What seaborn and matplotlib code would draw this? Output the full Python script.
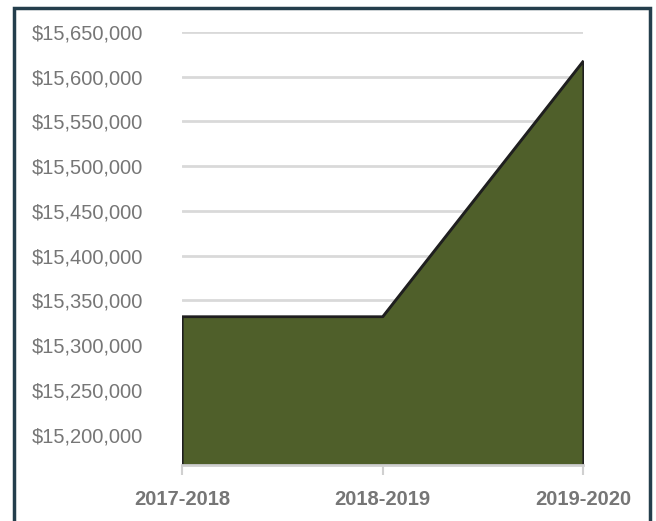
import matplotlib
matplotlib.use("Agg")
import matplotlib.pyplot as plt
import matplotlib.patches as mpatches
from matplotlib.ticker import FuncFormatter
import seaborn as sns
import pandas as pd

years = ["2017-2018", "2018-2019", "2019-2020"]
funding = [15332000, 15332000, 15617500]
y_ticks = [15200000, 15250000, 15300000, 15350000, 15400000,
           15450000, 15500000, 15550000, 15600000, 15650000]
y_floor = 15166000

sns.set_theme(style="white")
plt.rcParams["font.family"] = ["Liberation Sans", "DejaVu Sans"]

df = pd.DataFrame({"pos": range(len(years)), "year": years, "funding": funding})

fig = plt.figure(figsize=(6.56, 5.21), dpi=100)
ax = fig.add_axes([182 / 656, 1 - 465 / 521, (583 - 182) / 656, (465 - 32) / 521])

fill_color = "#4f5f2a"
ax.fill_between(df["pos"], y_floor, df["funding"], color=fill_color,
                edgecolor="#1f1f1f", linewidth=1.6, zorder=2)
sns.lineplot(data=df, x="pos", y="funding", ax=ax, color="#1f1f1f",
             linewidth=1.6, zorder=3)

ax.set_xlim(0, len(years) - 1)
ax.set_ylim(y_floor, 15650000)
ax.set_yticks(y_ticks)
ax.yaxis.set_major_formatter(FuncFormatter(lambda v, _: f"${v:,.0f}"))
ax.set_xticks(df["pos"])
ax.set_xticklabels(years)
ax.set_xlabel("")
ax.set_ylabel("")

ax.grid(axis="y", color="#d9d9d9", linewidth=2, zorder=0)
ax.set_axisbelow(True)
for side in ["left", "right", "top"]:
    ax.spines[side].set_visible(False)
ax.spines["bottom"].set_color("#d0d0d0")
ax.spines["bottom"].set_linewidth(2)
ax.spines["bottom"].set_zorder(4)

ax.tick_params(axis="y", length=0, pad=28, labelsize=14.5, labelcolor="#767676")
ax.tick_params(axis="x", length=7, width=1.5, color="#d0d0d0", pad=11,
               labelsize=14.5, labelcolor="#767676", direction="out", bottom=True)
for lbl in ax.get_xticklabels():
    lbl.set_fontweight("bold")

# Frame around the whole figure
frame = mpatches.Rectangle((14 / 656, -0.05), (650 - 14) / 656, 1.05 - 8 / 521,
                           transform=fig.transFigure, fill=False,
                           edgecolor="#243e4c", linewidth=2.5, clip_on=False)
fig.patches.append(frame)

fig.savefig("out.png", dpi=100)
